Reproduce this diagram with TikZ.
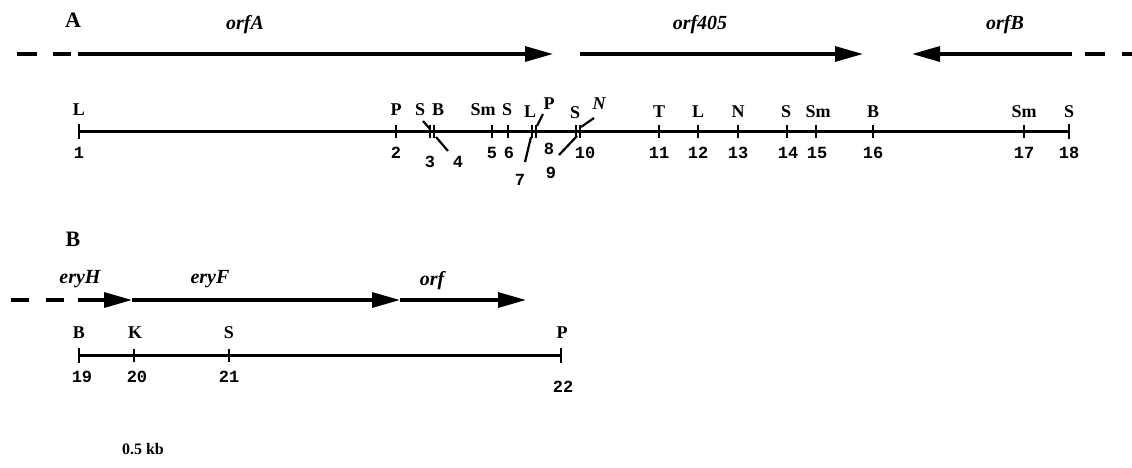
\documentclass[tikz,border=0pt]{standalone}
\usepackage{fontspec}
\setmainfont{Liberation Serif}
\newfontfamily\monof{Liberation Mono}
\usetikzlibrary{arrows.meta}
\begin{document}
\begin{tikzpicture}[x=1pt,y=-1pt,
 lab/.style={font=\fontsize{18}{18}\selectfont\bfseries, inner sep=0pt},
 ilab/.style={font=\fontsize{18}{18}\selectfont\bfseries\itshape, inner sep=0pt},
 num/.style={font=\monof\fontsize{17}{17}\selectfont\bfseries, inner sep=0pt},
 gene/.style={font=\fontsize{20}{20}\selectfont\bfseries\itshape, inner sep=0pt},
 panel/.style={font=\fontsize{22}{22}\selectfont\bfseries, inner sep=0pt},
 mapline/.style={line width=3pt},
 tk/.style={line width=2.4pt},
 lead/.style={line width=2.2pt},
 garrow/.style={line width=3.2pt, -{Triangle[length=28pt,width=15pt]}},
 dashseg/.style={line width=3.2pt}
]
\useasboundingbox (0,0) rectangle (1132,467);

% ---------- Panel A ----------
\node[panel] (pA) at (73,20) {A};
\node[gene] (orfA) at (245,25) {orfA};
\node[gene] (orf405) at (700,25) {orf405};
\node[gene] (orfB) at (1005,25) {orfB};

\coordinate (d1a) at (17,54); \coordinate (d1b) at (37,54);
\coordinate (d2a) at (53,54); \coordinate (d2b) at (71,54);
\coordinate (oAs) at (78,54); \coordinate (oAe) at (553,54);
\coordinate (o4s) at (580,54); \coordinate (o4e) at (863,54);
\coordinate (oBs) at (1072,54); \coordinate (oBe) at (912,54);
\coordinate (d3a) at (1085,54); \coordinate (d3b) at (1105,54);
\coordinate (d4a) at (1122,54); \coordinate (d4b) at (1132,54);
\draw[dashseg] (d1a) -- (d1b);
\draw[dashseg] (d2a) -- (d2b);
\draw[dashseg] (d3a) -- (d3b);
\draw[dashseg] (d4a) -- (d4b);
\draw[garrow] (oAs) -- (oAe);
\draw[garrow] (o4s) -- (o4e);
\draw[garrow] (oBs) -- (oBe);

\foreach \n/\x in {1/79,2/396,3/430,4/434,5/492,6/508,7/532,8/536,9/576,10/580,11/659,12/698,13/738,14/787,15/816,16/873,17/1024,18/1069}
  \coordinate (a\n) at (\x,131);
\draw[mapline] (a1) -- (a18);
\foreach \n in {2,3,4,5,6,7,8,9,10,11,12,13,14,15,16,17}
  \draw[tk] (a\n) ++(0,-6.5) -- ++(0,13);
\draw[tk] (a1) ++(0,-7.5) -- ++(0,15);
\draw[tk] (a18) ++(0,-7.5) -- ++(0,15);

% site labels
\node[lab] (l1) at (79,110) {L};
\node[lab] (l2) at (396,110) {P};
\node[lab] (l3) at (420,110) {S};
\node[lab] (l4) at (438,110) {B};
\node[lab] (l5) at (483,110) {Sm};
\node[lab] (l6) at (507,110) {S};
\node[lab] (l7) at (530,112) {L};
\node[lab] (l8) at (549,104) {P};
\node[lab] (l9) at (575,113) {S};
\node[ilab] (l10) at (599,104) {N};
\node[lab] (l11) at (659,112) {T};
\node[lab] (l12) at (698,112) {L};
\node[lab] (l13) at (738,112) {N};
\node[lab] (l14) at (786,112) {S};
\node[lab] (l15) at (818,112) {Sm};
\node[lab] (l16) at (873,112) {B};
\node[lab] (l17) at (1024,112) {Sm};
\node[lab] (l18) at (1069,112) {S};

% numbers
\node[num] (n1) at (79,153) {1};
\node[num] (n2) at (396,153) {2};
\node[num] (n3) at (430,162) {3};
\node[num] (n4) at (458,162) {4};
\node[num] (n5) at (492,153) {5};
\node[num] (n6) at (509,153) {6};
\node[num] (n7) at (520,180) {7};
\node[num] (n8) at (549,149) {8};
\node[num] (n9) at (551,173) {9};
\node[num] (n10) at (585,153) {10};
\node[num] (n11) at (659,153) {11};
\node[num] (n12) at (698,153) {12};
\node[num] (n13) at (738,153) {13};
\node[num] (n14) at (788,153) {14};
\node[num] (n15) at (817,153) {15};
\node[num] (n16) at (873,153) {16};
\node[num] (n17) at (1024,153) {17};
\node[num] (n18) at (1069,153) {18};

% leaders
\coordinate (k3a) at (423,121); \coordinate (k3b) at (430,129);
\coordinate (k4a) at (436,137); \coordinate (k4b) at (448,151);
\coordinate (k7a) at (531,137); \coordinate (k7b) at (525,162);
\coordinate (k8a) at (537,126); \coordinate (k8b) at (543,114);
\coordinate (k9a) at (577,136); \coordinate (k9b) at (559,155);
\coordinate (k10a) at (581,127); \coordinate (k10b) at (594,118);
\draw[lead] (k3a) -- (k3b);
\draw[lead] (k4a) -- (k4b);
\draw[lead] (k7a) -- (k7b);
\draw[lead] (k8a) -- (k8b);
\draw[lead] (k9a) -- (k9b);
\draw[lead] (k10a) -- (k10b);

% ---------- Panel B ----------
\node[panel] (pB) at (73,239) {B};
\node[gene] (eryH) at (80,279) {eryH};
\node[gene] (eryF) at (210,279) {eryF};
\node[gene] (orf) at (432,281) {orf};

\coordinate (e1a) at (11,300); \coordinate (e1b) at (29,300);
\coordinate (e2a) at (46,300); \coordinate (e2b) at (64,300);
\coordinate (eHs) at (78,300); \coordinate (eHe) at (132,300);
\coordinate (eFe) at (400,300); \coordinate (ore) at (526,300);
\draw[dashseg] (e1a) -- (e1b);
\draw[dashseg] (e2a) -- (e2b);
\draw[garrow] (eHs) -- (eHe);
\draw[garrow] (eHe) -- (eFe);
\draw[garrow] (eFe) -- (ore);

\foreach \n/\x in {19/79,20/134,21/229,22/561}
  \coordinate (b\n) at (\x,355);
\draw[mapline] (b19) -- (b22);
\draw[tk] (b19) ++(0,-7.5) -- ++(0,15);
\draw[tk] (b20) ++(0,-6.5) -- ++(0,13);
\draw[tk] (b21) ++(0,-6.5) -- ++(0,13);
\draw[tk] (b22) ++(0,-7.5) -- ++(0,15);

\node[lab] (m19) at (79,333) {B};
\node[lab] (m20) at (135,333) {K};
\node[lab] (m21) at (229,333) {S};
\node[lab] (m22) at (562,333) {P};
\node[num] (q19) at (82,377) {19};
\node[num] (q20) at (137,377) {20};
\node[num] (q21) at (229,377) {21};
\node[num] (q22) at (563,387) {22};

\node[font=\fontsize{16}{16}\selectfont\bfseries, inner sep=0pt] (kb) at (143,449) {0.5 kb};
\end{tikzpicture}
\end{document}
